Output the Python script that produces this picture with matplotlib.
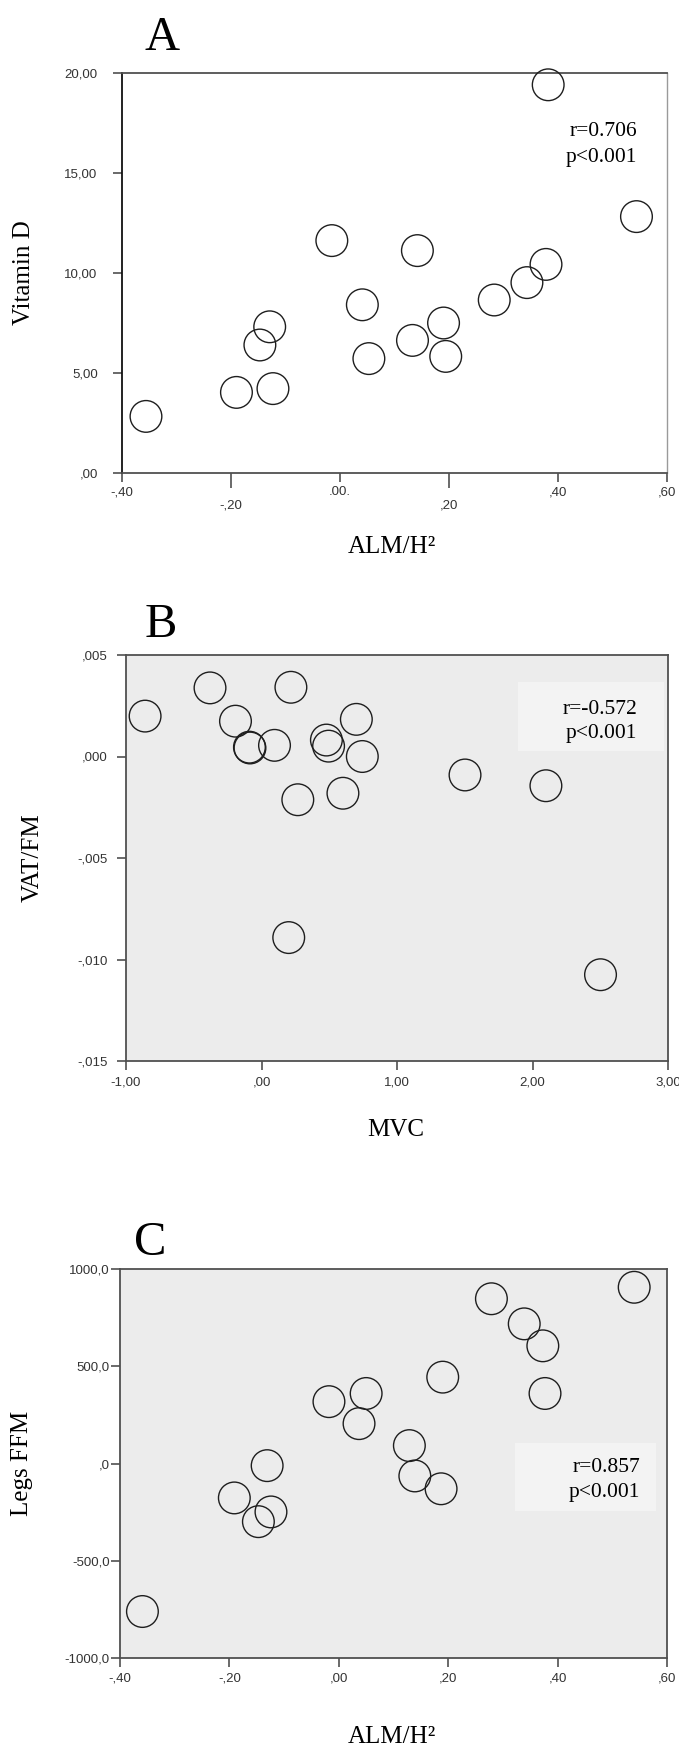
import matplotlib
matplotlib.use("Agg")
import matplotlib.pyplot as plt
from matplotlib.patches import Rectangle
from matplotlib.transforms import ScaledTranslation

W, H = 679, 1753

# ---------------- data ----------------
# Panel A: ALM/H2 vs Vitamin D
a_x = [-0.356, -0.190, -0.123, -0.147, -0.129, -0.015, 0.041, 0.053, 0.142,
       0.133, 0.190, 0.194, 0.283, 0.343, 0.378, 0.382, 0.544]
a_y = [2.83, 4.03, 4.22, 6.40, 7.31, 11.62, 8.41, 5.72, 11.12,
       6.63, 7.50, 5.83, 8.65, 9.52, 10.43, 19.41, 12.82]
a_xticks = [-0.4, -0.2, 0.0, 0.2, 0.4, 0.6]
a_xticklabels = ["-,40", "-,20", ".00.", ",20", ",40", ",60"]
a_yticks = [0, 5, 10, 15, 20]
a_yticklabels = [",00", "5,00", "10,00", "15,00", "20,00"]

# Panel B: MVC vs VAT/FM
b_x = [-0.859, -0.380, -0.192, -0.089, -0.085, 0.096, 0.217, 0.268, 0.201,
       0.479, 0.495, 0.700, 0.744, 0.601, 1.502, 2.099, 2.502]
b_y = [0.00199, 0.00338, 0.00174, 0.00046, 0.00042, 0.00055, 0.00341, -0.00213, -0.00892,
       0.00081, 0.00051, 0.00183, 0.00000, -0.00181, -0.00091, -0.00144, -0.01075]
b_xticks = [-1, 0, 1, 2, 3]
b_xticklabels = ["-1,00", ",00", "1,00", "2,00", "3,00"]
b_yticks = [-0.015, -0.010, -0.005, 0.0, 0.005]
b_yticklabels = ["-,015", "-,010", "-,005", ",000", ",005"]

# Panel C: ALM/H2 vs Legs FFM
c_x = [-0.359, -0.191, -0.131, -0.147, -0.124, -0.018, 0.050, 0.037, 0.129,
       0.139, 0.187, 0.190, 0.279, 0.339, 0.373, 0.377, 0.540]
c_y = [-761, -177, -11, -299, -249, 318, 360, 205, 92,
       -64, -130, 444, 847, 718, 605, 360, 906]
c_xticks = [-0.4, -0.2, 0.0, 0.2, 0.4, 0.6]
c_xticklabels = ["-,40", "-,20", ",00", ",20", ",40", ",60"]
c_yticks = [-1000, -500, 0, 500, 1000]
c_yticklabels = ["-1000,0", "-500,0", ",0", "500,0", "1000,0"]

labels_letters = ["A", "B", "C"]
x_titles = ["ALM/H\u00b2", "MVC", "ALM/H\u00b2"]
y_titles = ["Vitamin D", "VAT/FM", "Legs FFM"]
r_texts = ["r=0.706", "r=-0.572", "r=0.857"]
p_texts = ["p<0.001", "p<0.001", "p<0.001"]

# ---------------- layout ----------------
SERIF = "Liberation Serif"
SANS = "Liberation Sans"
SPINE = "#505050"
TICKTXT = "#333333"

fig = plt.figure(figsize=(W / 100, H / 100), dpi=100)
fig.patch.set_facecolor("white")


def fx(px):
    return px / W


def fy(py):
    return 1 - py / H


def make_axes(left, right, top, bottom):
    return fig.add_axes([fx(left), fy(bottom), (right - left) / W, (bottom - top) / H])


panels = [
    dict(box=(122, 667, 73, 473), x=a_x, y=a_y, xlim=(-0.4, 0.6), ylim=(0, 20),
         xt=a_xticks, xtl=a_xticklabels, yt=a_yticks, ytl=a_yticklabels,
         bg="white", letter=(162, 50), xl=(392, 547), yl=(24, 273),
         ann_right=637, ann_base=(136, 162), ann_box=None, ypad=11, xpad=3),
    dict(box=(126, 668, 655, 1061), x=b_x, y=b_y, xlim=(-1, 3), ylim=(-0.015, 0.005),
         xt=b_xticks, xtl=b_xticklabels, yt=b_yticks, ytl=b_yticklabels,
         bg="#ececec", letter=(161, 637), xl=(396, 1130), yl=(33, 858),
         ann_right=637, ann_base=(714, 738), ann_box=(518, 664, 682, 751), ypad=7, xpad=5),
    dict(box=(120, 667, 1269, 1658), x=c_x, y=c_y, xlim=(-0.4, 0.6), ylim=(-1000, 1000),
         xt=c_xticks, xtl=c_xticklabels, yt=c_yticks, ytl=c_yticklabels,
         bg="#ececec", letter=(150, 1255), xl=(392, 1737), yl=(22, 1463),
         ann_right=640, ann_base=(1472, 1497), ann_box=(515, 656, 1443, 1511), ypad=1, xpad=4),
]

for i, p in enumerate(panels):
    left, right, top, bottom = p["box"]
    ax = make_axes(left, right, top, bottom)
    ax.set_facecolor(p["bg"])
    ax.set_xlim(*p["xlim"])
    ax.set_ylim(*p["ylim"])
    for s in ax.spines.values():
        s.set_color(SPINE)
        s.set_linewidth(1.3)
    if i == 0:
        ax.spines["left"].set_color("#111111")
        ax.spines["right"].set_color("#9a9a9a")
        ax.spines["right"].set_linewidth(1.0)
    ax.set_xticks(p["xt"])
    ax.set_xticklabels(p["xtl"])
    ax.set_yticks(p["yt"])
    ax.set_yticklabels(p["ytl"])
    ax.tick_params(axis="both", direction="out", length=6.5, width=1.2, color=SPINE,
                   labelsize=9.5, labelcolor=TICKTXT)
    ax.tick_params(axis="y", pad=p["ypad"])
    ax.tick_params(axis="x", pad=p["xpad"])
    for lab in ax.get_xticklabels() + ax.get_yticklabels():
        lab.set_fontfamily(SANS)

    # staggered labels in panel A
    if i == 0:
        ticks = ax.xaxis.get_major_ticks()
        for j in (1, 3):
            ticks[j].tick1line.set_markersize(11)
            lab = ticks[j].label1
            lab.set_transform(lab.get_transform() +
                              ScaledTranslation(0, -13 / 100, fig.dpi_scale_trans))

    if p["ann_box"] is not None:
        bl, br, bt, bb = p["ann_box"]
        fig.patches.append(Rectangle((fx(bl), fy(bb)), (br - bl) / W, (bb - bt) / H,
                                     transform=fig.transFigure, facecolor="#f3f3f3",
                                     edgecolor="none", zorder=0.5))
        ax.set_zorder(0)
        ax.patch.set_zorder(0)

    ax.scatter(p["x"], p["y"], s=520, facecolors="none", edgecolors="#1e1e1e",
               linewidths=1.0, clip_on=False, zorder=3)

    # texts
    lx, ly = p["letter"]
    fig.text(fx(lx), fy(ly), labels_letters[i], family=SERIF, fontsize=35,
             ha="center", va="baseline")
    xx, xy = p["xl"]
    fig.text(fx(xx), fy(xy), x_titles[i], family=SERIF, fontsize=18,
             ha="center", va="center")
    yx, yy = p["yl"]
    fig.text(fx(yx), fy(yy), y_titles[i], family=SERIF, fontsize=18,
             ha="center", va="center", rotation=90)
    b1, b2 = p["ann_base"]
    fig.text(fx(p["ann_right"]), fy(b1), r_texts[i], family=SERIF, fontsize=15.5,
             ha="right", va="baseline", zorder=5)
    fig.text(fx(p["ann_right"]), fy(b2), p_texts[i], family=SERIF, fontsize=15.5,
             ha="right", va="baseline", zorder=5)

# ensure the annotation boxes sit above the axes background of panels B and C
for ax in fig.axes:
    ax.patch.set_visible(True)

fig.savefig("out.png", dpi=100)
